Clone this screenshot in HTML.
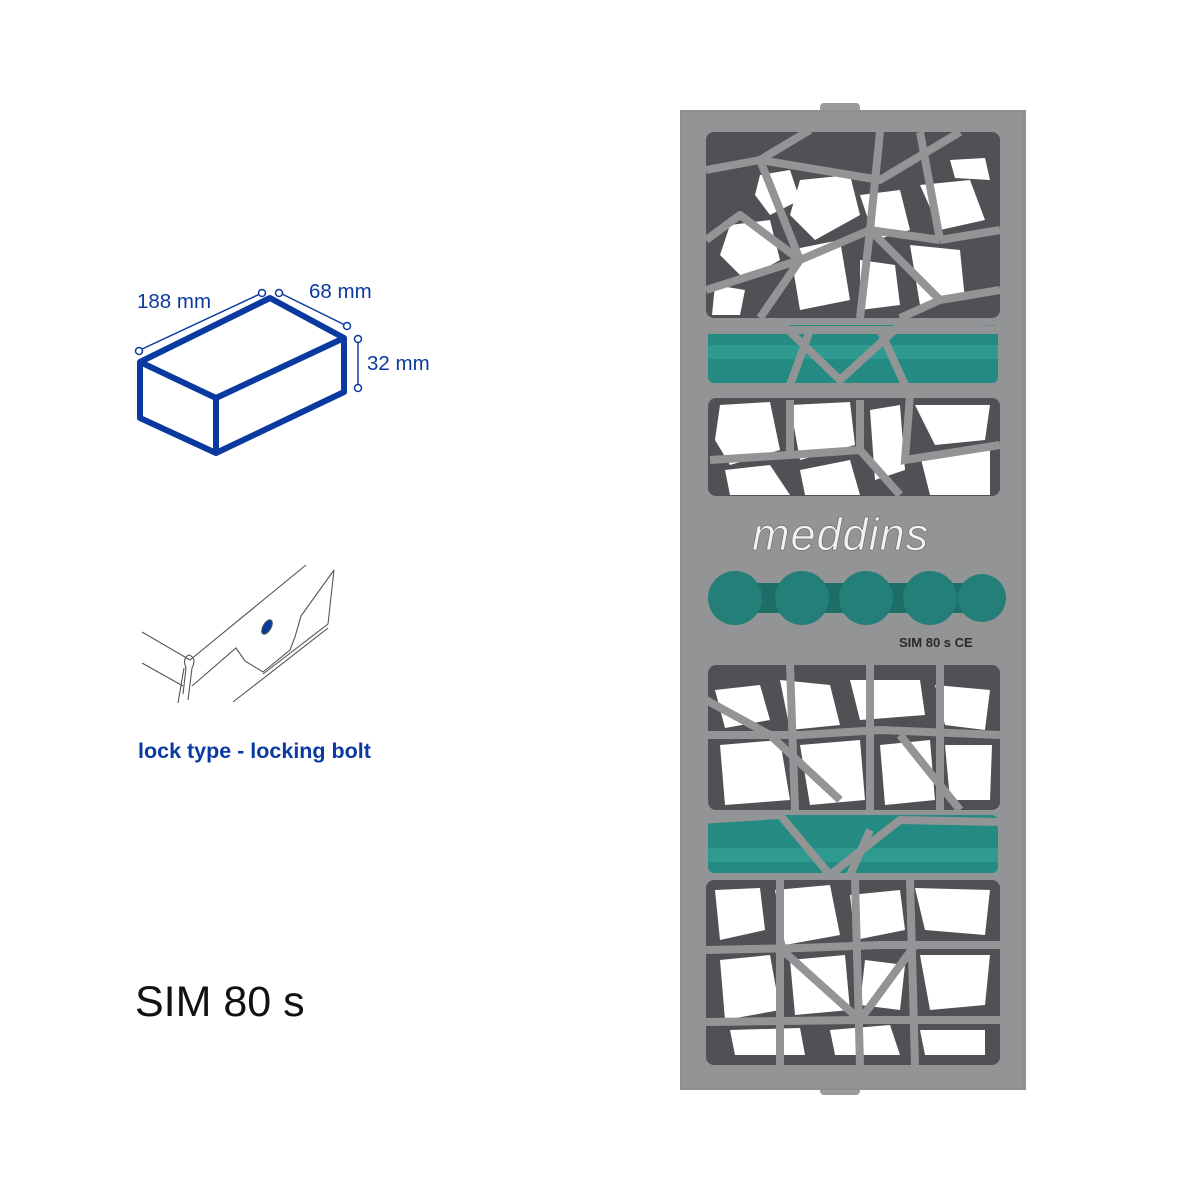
<!DOCTYPE html>
<html><head><meta charset="utf-8"><style>
html,body{margin:0;padding:0;background:#fff}
body{width:1200px;height:1200px;position:relative;overflow:hidden;font-family:"Liberation Sans",sans-serif}
</style></head><body>
<svg width="1200" height="1200" viewBox="0 0 1200 1200" xmlns="http://www.w3.org/2000/svg" style="position:absolute;left:0;top:0">
<!-- box icon -->
<g fill="none" stroke="#0a3aa0" stroke-linejoin="round">
<polygon points="140,362 270,298 344,338 216,398" stroke-width="6"/>
<polyline points="140,362 140,418 216,453 216,398" stroke-width="6"/>
<polyline points="216,453 344,392 344,338" stroke-width="6"/>
<g stroke-width="1.5">
<line x1="140" y1="350" x2="262" y2="293"/>
<line x1="280" y1="293" x2="347" y2="326"/>
<line x1="358" y1="339" x2="358" y2="388"/>
<circle cx="139" cy="351" r="3.5" fill="#fff"/>
<circle cx="262" cy="293" r="3.5" fill="#fff"/>
<circle cx="279" cy="293" r="3.5" fill="#fff"/>
<circle cx="347" cy="326" r="3.5" fill="#fff"/>
<circle cx="358" cy="339" r="3.5" fill="#fff"/>
<circle cx="358" cy="388" r="3.5" fill="#fff"/>
</g></g>
<g fill="#0a3aa0" font-size="20.5">
<text x="137" y="308">188 mm</text>
<text x="309" y="298">68 mm</text>
<text x="367" y="370">32 mm</text>
</g>
<!-- lock drawing -->
<g fill="none" stroke="#555" stroke-width="1.1">
<polyline points="142,632 190,660 306,565"/>
<polyline points="142,663 183,686"/>
<polyline points="192,686 236,648 245,661 263,672 290,650 295,637 301,616 334,570"/>
<polyline points="263,674 328,624 334,570"/>
<polyline points="233,702 328,628"/>
<path d="M183,694 L186,668 Q182,658 189,655 Q197,658 192,668 L188,700"/>
<path d="M178,703 L184,668"/>
<ellipse cx="267" cy="627" rx="4" ry="8" transform="rotate(30 267 627)" fill="#0a3aa0"/>
</g>
<text x="138" y="758" fill="#0a3aa0" font-size="21.5" font-weight="bold">lock type - locking bolt</text>
<text x="135" y="1016" fill="#111" font-size="43">SIM 80 s</text>
<!-- tray -->
<rect x="820" y="103" width="40" height="12" rx="4" fill="#9a9b9d"/>
<rect x="820" y="1085" width="40" height="10" rx="4" fill="#9a9b9d"/>
<rect x="680" y="110" width="346" height="980" fill="#8e8f91"/>
<rect x="683" y="112" width="340" height="976" fill="#939496"/>
<!-- top region -->
<rect x="706" y="132" width="294" height="186" rx="8" fill="#505154"/>
<g fill="#fff">
<polygon points="760,175 790,170 800,200 770,215 755,195"/>
<polygon points="800,180 850,175 860,215 815,240 790,215"/>
<polygon points="730,225 770,220 780,260 745,280 720,255"/>
<polygon points="790,250 840,240 850,300 800,310"/>
<polygon points="860,195 900,190 910,230 875,240"/>
<polygon points="920,185 970,180 985,220 940,230"/>
<polygon points="910,245 960,250 965,300 920,305"/>
<polygon points="715,285 745,290 740,315 712,315"/>
<polygon points="860,260 895,265 900,305 860,310"/>
<polygon points="950,160 985,158 990,180 955,178"/>
</g>
<g stroke="#939496" stroke-width="8" fill="none" stroke-linejoin="round">
<polyline points="706,170 760,160 810,130"/><polyline points="760,160 800,260 760,318"/>
<polyline points="800,260 870,230 880,132"/><polyline points="870,230 940,300 1000,290"/>
<polyline points="940,300 900,318"/><polyline points="870,230 860,318"/>
<polyline points="940,240 1000,230"/><polyline points="940,240 920,132"/>
<polyline points="706,240 740,215 800,260"/><polyline points="940,240 870,230"/>
<polyline points="760,160 880,180 960,132"/><polyline points="706,290 800,260"/>
</g>
<!-- green band top -->
<rect x="708" y="325" width="290" height="58" rx="6" fill="#248b82"/>
<rect x="708" y="345" width="290" height="14" fill="#2e9a90"/>
<g stroke="#939496" stroke-width="8" fill="none">
<polyline points="700,325 780,322 840,380 900,325 1000,330"/>
<polyline points="810,330 790,385"/><polyline points="880,330 905,385"/>
<line x1="708" y1="330" x2="998" y2="330"/>
</g>
<!-- mid upper -->
<rect x="708" y="398" width="292" height="98" rx="8" fill="#505154"/>
<g fill="#fff">
<polygon points="720,405 770,402 780,450 730,465 715,440"/>
<polygon points="790,405 850,402 855,445 800,460"/>
<polygon points="870,410 900,405 905,470 875,480"/>
<polygon points="915,405 990,405 985,440 935,445"/>
<polygon points="725,470 770,465 790,495 730,495"/>
<polygon points="800,470 850,460 860,495 805,495"/>
<polygon points="920,455 990,450 990,495 930,495"/>
</g>
<g stroke="#939496" stroke-width="8" fill="none">
<polyline points="710,460 790,455 860,450 900,495"/><polyline points="860,400 860,450"/>
<polyline points="790,455 790,400"/><polyline points="910,395 905,460 1000,445"/>
</g>
<!-- logo -->
<text x="752" y="550" font-size="45" fill="#f2f2f2" stroke="#6e6f71" stroke-width="0.7" font-style="italic" letter-spacing="1">meddins</text>
<!-- buttons -->
<rect x="720" y="583" width="275" height="30" fill="#1b6f67"/>
<g fill="#237f77">
<circle cx="735" cy="598" r="27"/><circle cx="802" cy="598" r="27"/>
<circle cx="866" cy="598" r="27"/><circle cx="930" cy="598" r="27"/>
<circle cx="982" cy="598" r="24"/>
</g>
<text x="899" y="647" font-size="13" font-weight="bold" fill="#2a2a2a">SIM 80 s  CE</text>
<!-- bottom upper region -->
<rect x="708" y="665" width="292" height="145" rx="8" fill="#505154"/>
<g fill="#fff">
<polygon points="715,690 760,685 770,720 725,728"/>
<polygon points="780,680 830,685 840,725 790,730"/>
<polygon points="850,680 920,680 925,715 860,720"/>
<polygon points="935,685 990,690 985,730 945,725"/>
<polygon points="720,745 780,740 790,800 725,805"/>
<polygon points="800,745 860,740 865,800 810,805"/>
<polygon points="880,745 930,740 935,800 885,805"/>
<polygon points="945,745 992,745 990,800 950,800"/>
</g>
<g stroke="#939496" stroke-width="8" fill="none">
<polyline points="706,735 800,735 880,730 1000,735"/><polyline points="790,665 795,810"/>
<polyline points="870,665 870,810"/><polyline points="940,665 940,810"/>
<polyline points="706,700 770,735 840,800"/><polyline points="900,735 960,810"/>
</g>
<!-- green band bottom -->
<rect x="708" y="815" width="290" height="58" rx="6" fill="#248b82"/>
<rect x="708" y="848" width="290" height="14" fill="#2e9a90"/>
<g stroke="#939496" stroke-width="8" fill="none">
<polyline points="700,820 780,815 830,875 900,820 1000,822"/>
<polyline points="870,830 850,875"/>
</g>
<!-- bottom region -->
<rect x="706" y="880" width="294" height="185" rx="8" fill="#505154"/>
<g fill="#fff">
<polygon points="715,890 760,888 765,930 720,940"/>
<polygon points="775,890 830,885 840,935 785,945"/>
<polygon points="850,895 900,890 905,930 855,940"/>
<polygon points="915,888 990,890 985,935 925,930"/>
<polygon points="720,960 770,955 780,1010 725,1020"/>
<polygon points="790,960 845,955 850,1010 795,1015"/>
<polygon points="865,960 905,965 900,1010 860,1005"/>
<polygon points="920,955 990,955 985,1005 930,1010"/>
<polygon points="730,1030 800,1028 805,1055 735,1055"/>
<polygon points="830,1030 890,1025 900,1055 835,1055"/>
<polygon points="920,1030 985,1030 985,1055 925,1055"/>
</g>
<g stroke="#939496" stroke-width="8" fill="none">
<polyline points="706,950 800,948 880,945 1000,945"/><polyline points="706,1022 860,1020 1000,1020"/>
<polyline points="780,880 780,1065"/><polyline points="855,880 860,1065"/>
<polyline points="910,880 915,1065"/><polyline points="780,948 860,1020 915,945"/>
</g>
</svg>
</body></html>
